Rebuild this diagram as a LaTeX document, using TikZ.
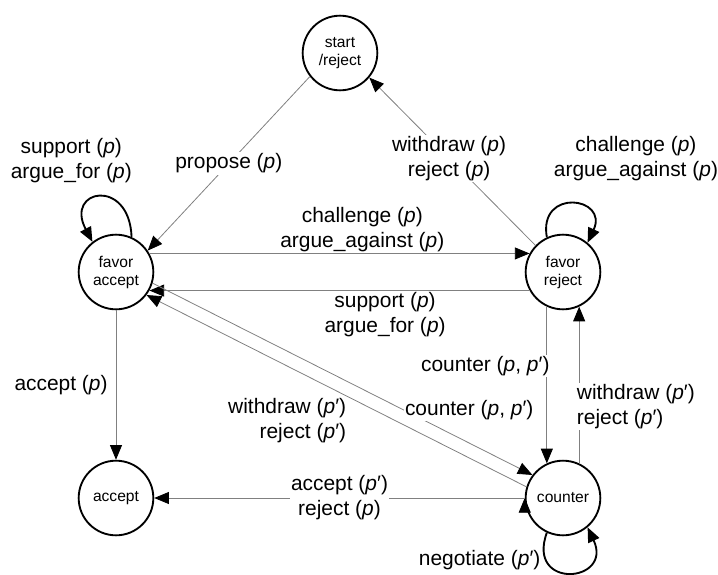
\documentclass[tikz,border=0pt]{standalone}
\usepackage{fontspec}
\setmainfont{Liberation Sans}
\usetikzlibrary{automata, arrows.meta}
\newcommand{\lblfont}{\fontsize{15.7}{18.8}\selectfont}
\newcommand{\statefont}{\fontsize{11.7}{13.5}\selectfont}
\newcommand{\argp}{(\textit{p})}
\newcommand{\argq}{(\textit{p}′)}
\newcommand{\argpq}{(\textit{p}, \textit{p}′)}
\tikzset{
	->,
	>={Triangle[length=11pt, width=9pt, color=black]},
	align=center,
	every state/.style={line width=1.4pt, minimum size=56pt, inner sep=0pt, font=\statefont},
	trans/.style={draw=gray, line width=0.6pt},
	selfloop/.style={draw=black, line width=1.4pt},
	lbl/.style={fill=white, inner sep=1pt, font=\lblfont}
}
\begin{document}
\begin{tikzpicture}[x=0.75pt, y=-0.75pt]
	\useasboundingbox (0,0) rectangle (718,575);
	\node[state] (start) at (340,53)  {start\\/reject};
	\node[state] (fa)    at (116,272) {favor\\accept};
	\node[state] (fr)    at (563,272) {favor\\reject};
	\node[state] (acc)   at (116,498) {accept};
	\node[state] (ctr)   at (563,498) {counter};
	\draw[trans]
%	opening and retreat
	(start.218) edge node[lbl, pos=0.5] {propose \argp} (fa.34)
	(fr.136) edge node[lbl, pos=0.52] {withdraw \argp\\reject \argp} (start.-40)

%	between the favor states
	(fa.29) edge node[lbl, above, pos=0.56] {challenge \argp\\argue\_against \argp} (fr.151)
	(fr.-151) edge node[lbl, below, pos=0.38] {support \argp\\argue\_for \argp} (fa.-29)

%	towards counter and accept
	(fa.south) edge node[lbl, left=5pt, pos=0.5] {accept \argp} (acc.north)
	(fr.-115) edge node[lbl, anchor=east, xshift=3.3pt, pos=0.38] {counter \argpq} (ctr.115)
	(ctr.65) edge node[lbl, anchor=west, xshift=-3pt, pos=0.365, align=left] {withdraw \argq\\reject \argq} (fr.-65)
	(fa.-17) edge node[lbl, anchor=west, pos=0.66] {counter \argpq} (ctr.143)
	(ctr.163) edge node[lbl, anchor=north east, pos=0.47, align=right] {withdraw \argq\\reject \argq} (fa.-37)
	(ctr.west) edge node[lbl, pos=0.5] {accept \argq\\reject \argp} (acc.east)
	;
%	self loops
	\draw[selfloop] (fa.66) .. controls +(92:45pt) and +(118:45pt) .. (fa.128)
		node[lbl, pos=0.5, anchor=south, xshift=-22pt, yshift=9pt] {support \argp\\argue\_for \argp};
	\draw[selfloop] (fr.115) .. controls +(100:38pt) and +(65:38pt) .. (fr.50)
		node[lbl, pos=0.5, anchor=south, xshift=48pt, yshift=16pt] {challenge \argp\\argue\_against \argp};
	\draw[selfloop] (ctr.245) .. controls +(250:46pt) and +(295:46pt) .. (ctr.310)
		node[lbl, pos=0.25, anchor=east, xshift=-4pt, yshift=3pt] {negotiate \argq};
\end{tikzpicture}
\end{document}
